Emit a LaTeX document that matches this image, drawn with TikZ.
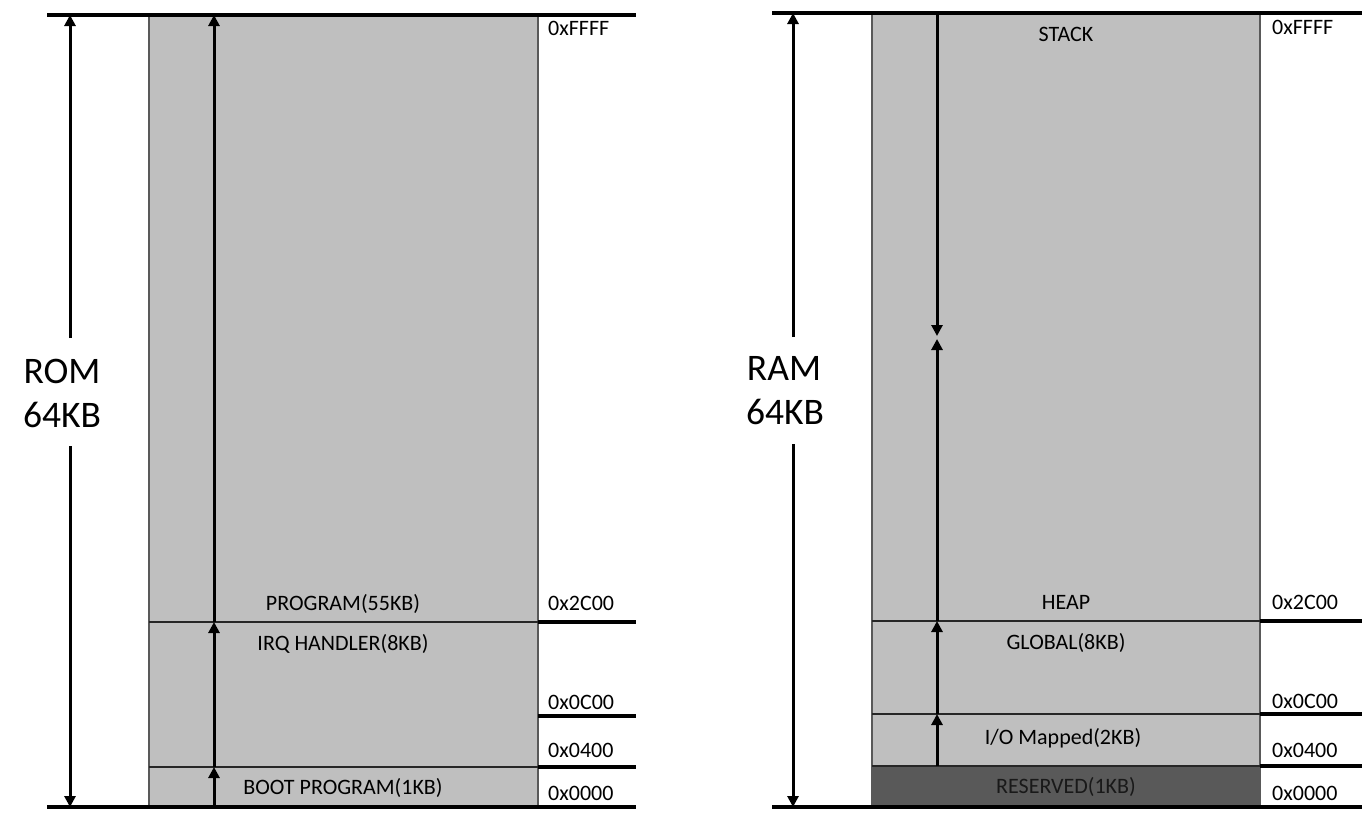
\documentclass[tikz,border=0pt]{standalone}
\usepackage{fontspec}
\setmainfont{Carlito}
\usetikzlibrary{arrows.meta}

\definecolor{memgray}{HTML}{BFBFBF}
\definecolor{memdark}{HTML}{595959}

\begin{document}
\begin{tikzpicture}[
  x=1pt, y=-1pt,
  region/.style={fill=memgray, draw=black!65, line width=1.6pt},
  rule/.style={line width=3.4pt},
  divider/.style={line width=2.2pt, draw=black!85},
  arrow/.style={-{Triangle[width=11pt,length=11pt]}, line width=3pt},
  area/.style={font=\fontsize{22}{26}\selectfont, inner sep=0pt, anchor=base},
  addr/.style={font=\fontsize{22}{26}\selectfont, inner sep=0pt, anchor=base west},
  biglabel/.style={font=\fontsize{37.5}{44}\selectfont, inner sep=0pt, anchor=base}
]
\useasboundingbox (0,0) rectangle (1362,822);

% ROM map
\draw[region] (149,15) rectangle (538,807);
\draw[rule] (47,15) -- (636,15);
\draw[rule] (47,807) -- (636,807);
\draw[divider] (149,622) -- (538,622);
\draw[rule] (538,622) -- (636,622);
\draw[rule] (538,716) -- (636,716);
\draw[divider] (149,767) -- (538,767);
\draw[rule] (538,767) -- (636,767);

\node[area] (program) at (343,610) {PROGRAM(55KB)};
\node[area] (irq) at (343,650) {IRQ HANDLER(8KB)};
\node[area] (boot) at (343,794) {BOOT PROGRAM(1KB)};

\node[addr] (rom-ffff) at (548,35) {0xFFFF};
\node[addr] (rom-2c00) at (548,610) {0x2C00};
\node[addr] (rom-0c00) at (548,709) {0x0C00};
\node[addr] (rom-0400) at (548,757) {0x0400};
\node[addr] (rom-0000) at (548,800) {0x0000};

\node[biglabel] (rom) at (62,383) {ROM};
\node[biglabel] (romsize) at (62,427) {64KB};

\coordinate (rom-up) at (70,338);
\coordinate (rom-top) at (70,15);
\coordinate (rom-down) at (70,446);
\coordinate (rom-bottom) at (70,807);
\draw[arrow] (rom-up) -- (rom-top);
\draw[arrow] (rom-down) -- (rom-bottom);

\coordinate (r0) at (214,807);
\coordinate (r1) at (214,767);
\coordinate (r2) at (214,622);
\coordinate (r3) at (214,15);
\draw[arrow] (r0) -- (r1);
\draw[arrow] (r1) -- (r2);
\draw[arrow] (r2) -- (r3);

% RAM map
\draw[region] (872,13) rectangle (1260,807);
\fill[memdark] (872,766) rectangle (1260,807);
\draw[black!65, line width=1.6pt] (872,766) rectangle (1260,807);
\draw[rule] (772,13) -- (1362,13);
\draw[rule] (772,807) -- (1362,807);
\draw[divider] (872,621) -- (1260,621);
\draw[rule] (1260,621) -- (1362,621);
\draw[divider] (872,714) -- (1260,714);
\draw[rule] (1260,714) -- (1362,714);
\draw[divider] (872,766) -- (1260,766);
\draw[rule] (1260,766) -- (1362,766);

\node[area] (stack) at (1066,41) {STACK};
\node[area] (heap) at (1066,609) {HEAP};
\node[area] (global) at (1066,649) {GLOBAL(8KB)};
\node[area] (iomap) at (1063,744) {I/O Mapped(2KB)};
\node[area, text=black!90] (reserved) at (1066,793) {RESERVED(1KB)};

\node[addr] (ram-ffff) at (1272,34) {0xFFFF};
\node[addr] (ram-2c00) at (1272,609) {0x2C00};
\node[addr] (ram-0c00) at (1272,708) {0x0C00};
\node[addr] (ram-0400) at (1272,757) {0x0400};
\node[addr] (ram-0000) at (1272,800) {0x0000};

\node[biglabel] (ram) at (784,380) {RAM};
\node[biglabel] (ramsize) at (785,424) {64KB};

\coordinate (ram-up) at (793,337);
\coordinate (ram-top) at (793,13);
\coordinate (ram-down) at (793,444);
\coordinate (ram-bottom) at (793,807);
\draw[arrow] (ram-up) -- (ram-top);
\draw[arrow] (ram-down) -- (ram-bottom);

\coordinate (s0) at (937,766);
\coordinate (s1) at (937,714);
\coordinate (s2) at (937,621);
\coordinate (s3) at (937,339);
\coordinate (s4) at (937,336);
\coordinate (s5) at (937,13);
\draw[arrow] (s0) -- (s1);
\draw[arrow] (s1) -- (s2);
\draw[arrow] (s2) -- (s3);
\draw[arrow] (s5) -- (s4);
\end{tikzpicture}
\end{document}
